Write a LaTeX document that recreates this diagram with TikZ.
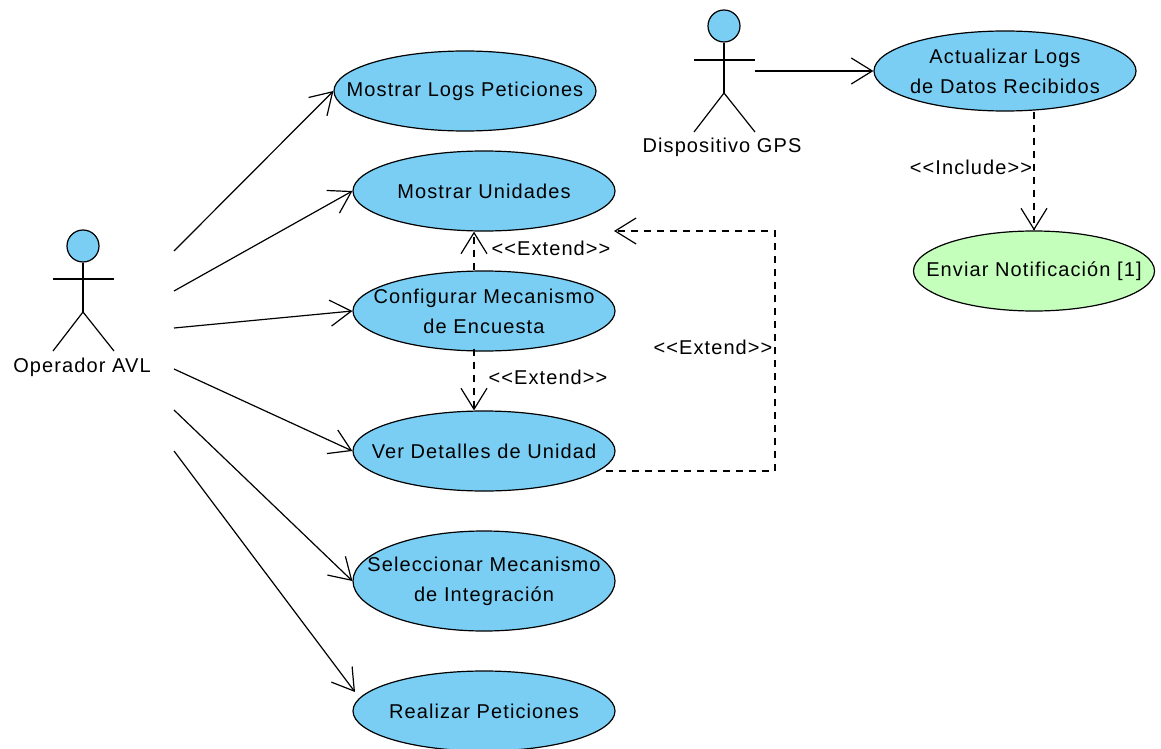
\documentclass[tikz,border=0pt]{standalone}
\usepackage{fontspec}
\setmainfont[LetterSpace=5.5,Ligatures=NoCommon]{Liberation Sans}
\usetikzlibrary{arrows.meta,shapes.geometric}
\definecolor{usecaseblue}{HTML}{7ACEF4}
\definecolor{usecasegreen}{HTML}{C4FFBC}
\tikzset{
   usecase/.style={draw,ellipse,fill=usecaseblue,line width=1.2pt,inner xsep=-70pt,inner ysep=-20pt,
      minimum width=262pt,minimum height=80pt,align=center,
      font=\fontsize{20}{30}\selectfont},
   head/.style={draw,circle,fill=usecaseblue,line width=1.2pt,inner sep=0pt,minimum size=32pt},
   label/.style={inner sep=0pt,font=\fontsize{20}{30}\selectfont},
   limb/.style={line width=1.2pt},
   assoc/.style={line width=1.2pt,-{Straight Barb[length=21pt,width=26pt,line width=1.2pt]}},
   depend/.style={assoc,line width=1.1pt,dash pattern=on 7pt off 6pt}
}
\begin{document}
\begin{tikzpicture}[x=1pt,y=-1pt]
   \useasboundingbox (0,0) rectangle (1161,749);
   % Use cases
   \node[usecase] (logs) at (465,91) {Mostrar Logs Peticiones};
   \node[usecase] (unidades) at (484,191) {Mostrar Unidades};
   \node[usecase] (configurar) at (484,311) {Configurar Mecanismo\\de Encuesta};
   \node[usecase] (detalles) at (484,451) {Ver Detalles de Unidad};
   \node[usecase,minimum height=100pt] (seleccionar) at (484,581) {Seleccionar Mecanismo\\de Integración};
   \node[usecase] (peticiones) at (484,711) {Realizar Peticiones};
   \node[usecase] (actualizar) at (1005,71) {Actualizar Logs\\de Datos Recibidos};
   \node[usecase,fill=usecasegreen,minimum width=241pt] (enviar) at (1034,271) {Enviar Notificación [1]};
   % Actor Operador AVL
   \node[head] (operador) at (83,246) {};
   \draw[limb] (operador.south) -- (83,312);
   \draw[limb] (53,279) -- (114,279);
   \draw[limb] (53,351) -- (83,312) -- (114,351);
   \node[label] (operadorname) at (82,367) {Operador AVL};
   % Actor Dispositivo GPS
   \node[head] (gps) at (724,26) {};
   \draw[limb] (gps.south) -- (724,93);
   \draw[limb] (694,60) -- (755,60);
   \draw[limb] (694,132) -- (724,93) -- (755,132);
   \node[label] (gpsname) at (722,147) {Dispositivo GPS};
   % Free ends of the connectors
   \coordinate (op1) at (174,251);
   \coordinate (op2) at (174,291);
   \coordinate (op3) at (174,328);
   \coordinate (op4) at (174,369);
   \coordinate (op5) at (174,410);
   \coordinate (op6) at (174,451);
   \coordinate (gpsout) at (755,71);
   \coordinate (peticionesin) at (355,692);
   \coordinate (cornerlow) at (775,471);
   \coordinate (cornerhigh) at (775,231);
   \coordinate (unidadesin) at (614,231);
   \coordinate (detallesout) at (606,471);
   % Associations
   \draw[assoc] (op1) -- (logs.west);
   \draw[assoc] (op2) -- (unidades.west);
   \draw[assoc] (op3) -- (configurar.west);
   \draw[assoc] (op4) -- (detalles.west);
   \draw[assoc] (op5) -- (seleccionar.west);
   \draw[assoc] (op6) -- (peticionesin);
   \draw[assoc] (gpsout) -- (actualizar.west);
   % Dependencies
   \draw[depend] ([xshift=-10pt]configurar.north) -- ([xshift=-10pt]unidades.south);
   \draw[depend] ([xshift=-10pt,yshift=3pt]configurar.south) -- ([xshift=-10pt]detalles.north);
   \draw[depend] (detallesout) -- (cornerlow) -- (cornerhigh) -- (unidadesin);
   \draw[depend] ([xshift=29pt]actualizar.south) -- (enviar.north);
   % Labels of the dependencies
   \node[label] (extendup) at (551,248) {<{}<Extend>{}>};
   \node[label] (extenddown) at (548,377) {<{}<Extend>{}>};
   \node[label] (extendside) at (713,347) {<{}<Extend>{}>};
   \node[label] (include) at (971,167) {<{}<Include>{}>};
\end{tikzpicture}
\end{document}
